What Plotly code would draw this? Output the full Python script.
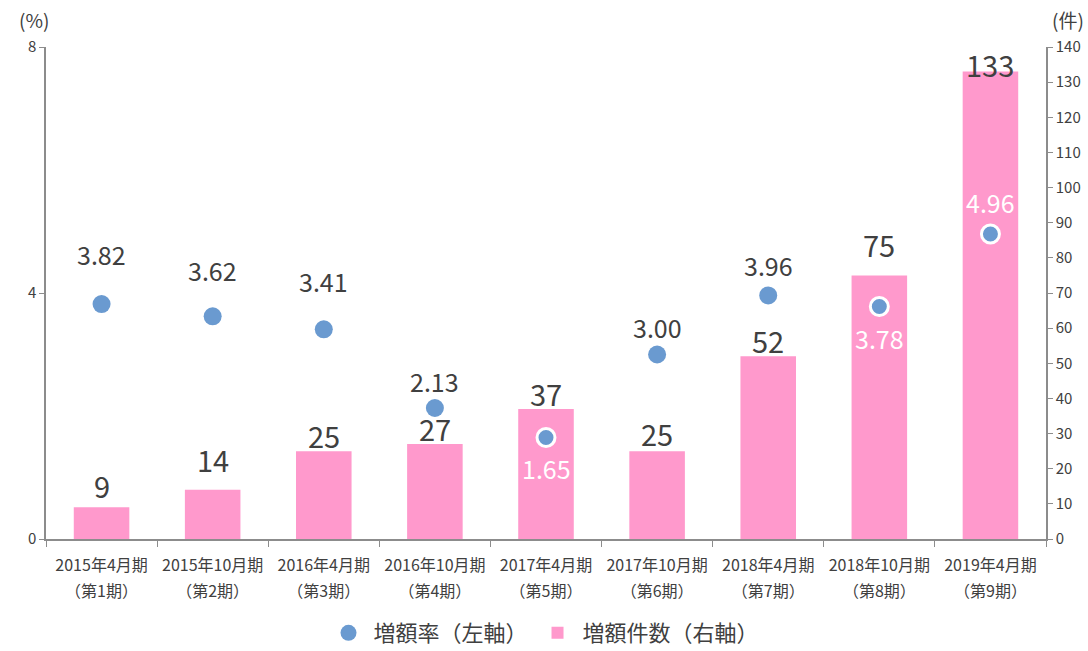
import plotly.graph_objects as go

period_labels = ["2015年4月期", "2015年10月期", "2016年4月期", "2016年10月期", "2017年4月期",
                 "2017年10月期", "2018年4月期", "2018年10月期", "2019年4月期"]
term_labels = ["（第1期）", "（第2期）", "（第3期）", "（第4期）", "（第5期）",
               "（第6期）", "（第7期）", "（第8期）", "（第9期）"]
rate = [3.82, 3.62, 3.41, 2.13, 1.65, 3.00, 3.96, 3.78, 4.96]
counts = [9, 14, 25, 27, 37, 25, 52, 75, 133]
right_ticks = list(range(0, 141, 10))
left_ticks = [0, 4, 8]

categories = [f"{p}<br>{t}" for p, t in zip(period_labels, term_labels)]
tick_text = [f"<span style='font-size:16px'>{p}</span><br><span style='font-size:16px'>{t}</span>"
             for p, t in zip(period_labels, term_labels)]

# styling (label offsets in px)
rate_shift = [50, 46, 48, 27, -30, 28, 30, -31, 32]
rate_inside = [False, False, False, False, True, False, False, True, True]
count_shift = [6, 15, 0, 0, 0, 2, 0, 15, -8]

FONT = "Noto Sans CJK JP"
BAR_C = "#FF99CC"
DOT_C = "#6A9AD0"
TXT = "#404040"
AX = "#8C8C8C"

fig = go.Figure()
fig.add_trace(go.Bar(x=categories, y=counts, yaxis="y", name="増額件数（右軸）",
                     marker=dict(color=BAR_C, line=dict(width=0)), width=0.5))
fig.add_trace(go.Scatter(x=categories, y=rate, yaxis="y2", mode="markers", name="増額率（左軸）",
                         marker=dict(color=DOT_C, size=18,
                                     line=dict(color=["white" if i else "rgba(0,0,0,0)" for i in rate_inside],
                                               width=[3 if i else 0 for i in rate_inside]))))

ann = []
for c, v, s, ins in zip(categories, rate, rate_shift, rate_inside):
    ann.append(dict(x=c, y=v, yref="y2", text=f"{v:.2f}", showarrow=False, yshift=s,
                    font=dict(family=FONT, size=25, color="white" if ins else TXT)))
for c, v, s in zip(categories, counts, count_shift):
    ann.append(dict(x=c, y=v, yref="y", text=str(v), showarrow=False, yanchor="bottom", yshift=s - 7,
                    font=dict(family=FONT, size=29, color=TXT)))
ann.append(dict(x=-12 / 1000, xref="paper", xanchor="center", y=1 + 27 / 492, yref="paper", yanchor="middle",
                text="(%)", showarrow=False, font=dict(family=FONT, size=19, color=TXT)))
ann.append(dict(x=1 + 22 / 1000, xref="paper", xanchor="center", y=1 + 27 / 492, yref="paper", yanchor="middle",
                text="(件)", showarrow=False, font=dict(family=FONT, size=19, color=TXT)))

fig.update_layout(
    width=1088, height=651,
    margin=dict(l=46, r=42, t=47, b=112),
    plot_bgcolor="white", paper_bgcolor="white",
    font=dict(family=FONT, color=TXT),
    showlegend=True,
    legend=dict(orientation="h", x=0.5, xanchor="center", xref="container",
                y=1 - 633 / 651, yanchor="middle", yref="container",
                font=dict(family=FONT, size=22, color=TXT), traceorder="reversed",
                itemwidth=40),
    xaxis=dict(showline=True, linecolor=AX, linewidth=1.5, ticks="outside", tickson="boundaries",
               ticklen=6, tickcolor=AX, tickfont=dict(family=FONT, size=20, color=TXT),
               tickmode="array", tickvals=categories, ticktext=tick_text, ticklabelstandoff=6,
               tickangle=0, showgrid=False, range=[-0.5, 8.5], automargin=False),
    yaxis=dict(range=[0, 140], tickvals=right_ticks, side="right", showline=True,
               linecolor=AX, linewidth=1.5, ticks="outside", ticklen=5, tickcolor=AX,
               showgrid=False, zeroline=False, tickfont=dict(family=FONT, size=15, color=TXT),
               automargin=False),
    yaxis2=dict(range=[0, 8], tickvals=left_ticks, overlaying="y", side="left", showline=True,
                linecolor=AX, linewidth=1.5, ticks="outside", ticklen=5, tickcolor=AX,
                showgrid=False, zeroline=False, tickfont=dict(family=FONT, size=15, color=TXT),
                automargin=False),
    annotations=ann,
    bargap=0.5,
)
fig.write_html("out.html", config={"displayModeBar": False},
               post_script="document.body.style.margin='0';document.body.style.overflow='hidden';")
